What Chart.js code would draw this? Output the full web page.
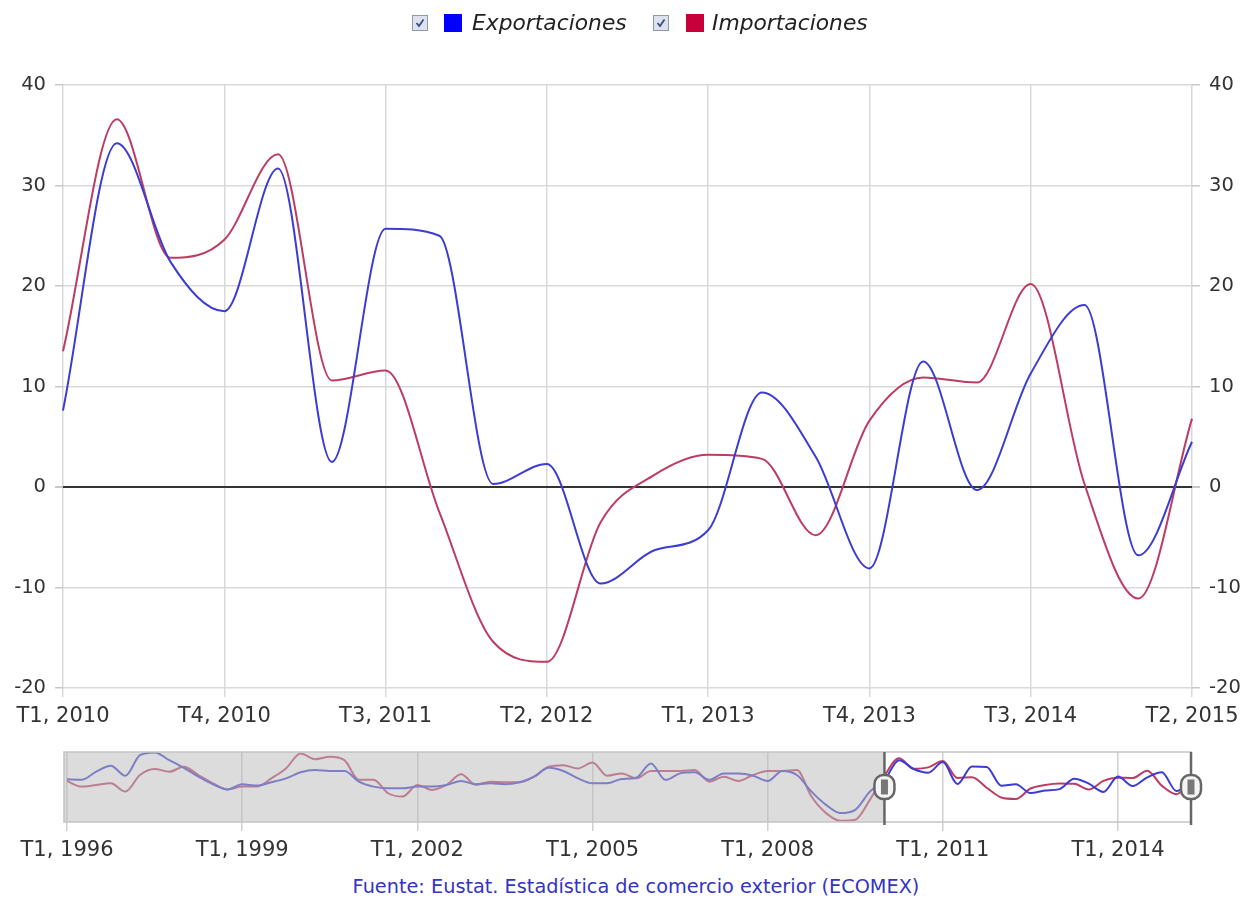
<!DOCTYPE html>
<html>
<head>
<meta charset="utf-8">
<title>Exportaciones e importaciones</title>
<script src="https://cdn.jsdelivr.net/npm/chart.js@4.4.1/dist/chart.umd.min.js"></script>
<style>
  html, body { margin: 0; padding: 0; background: #fff; }
  body { width: 1246px; height: 897px; position: relative; overflow: hidden; font-family: "DejaVu Sans", Verdana, sans-serif; }
  canvas { position: absolute; left: 0; }
  #main { top: 0; }
  #nav { top: 745px; }
  .lg { position: absolute; }
  .lg-text { top: 12px; font-size: 21.8px; line-height: 22px; font-style: italic; color: #222; white-space: nowrap; }
  .lg-box { top: 14px; width: 18px; height: 18px; }
  .lg-check { top: 15px; }
  #source { position: absolute; top: 876px; left: 13px; width: 1246px; text-align: center; font-size: 19.3px; line-height: 22px; color: #3434c4; }
</style>
</head>
<body>
<canvas id="main" width="1246" height="745"></canvas>
<canvas id="nav" width="1246" height="125"></canvas>

<svg class="lg lg-check" style="left:412px" width="16" height="16"><rect x="0.5" y="0.5" width="15" height="15" fill="#dde2ec" stroke="#8e99ad"/><path d="M4.5 8 L7 11 L11.5 4.5" stroke="#3a4c8a" stroke-width="1.8" fill="none"/></svg>
<span class="lg lg-box" style="left:444px;background:#0000ff"></span>
<span class="lg lg-text" style="left:472px">Exportaciones</span>
<svg class="lg lg-check" style="left:653px" width="16" height="16"><rect x="0.5" y="0.5" width="15" height="15" fill="#dde2ec" stroke="#8e99ad"/><path d="M4.5 8 L7 11 L11.5 4.5" stroke="#3a4c8a" stroke-width="1.8" fill="none"/></svg>
<span class="lg lg-box" style="left:686px;background:#c8003a"></span>
<span class="lg lg-text" style="left:712px">Importaciones</span>

<div id="source">Fuente: Eustat. Estadística de comercio exterior (ECOMEX)</div>

<script>
// periodos del grafico principal (T1 2010 - T2 2015)
const mainLabels = ['T1, 2010','T2, 2010','T3, 2010','T4, 2010',
                    'T1, 2011','T2, 2011','T3, 2011','T4, 2011',
                    'T1, 2012','T2, 2012','T3, 2012','T4, 2012',
                    'T1, 2013','T2, 2013','T3, 2013','T4, 2013',
                    'T1, 2014','T2, 2014','T3, 2014','T4, 2014',
                    'T1, 2015','T2, 2015'];

// tasa de variacion interanual (%)
const exportaciones = [7.6, 34.2, 22.4, 17.5, 31.7, 2.5, 25.7, 25.0, 0.3, 2.3, -9.6,
                       -6.3, -4.3, 9.4, 3.0, -8.1, 12.5, -0.3, 11.3, 18.1, -6.8, 4.5];
const importaciones = [13.5, 36.6, 22.8, 24.6, 33.1, 10.6, 11.6, -2.5, -15.4, -17.4, -3.5,
                       1.2, 3.2, 2.8, -4.8, 6.6, 10.9, 10.4, 20.2, 0.3, -11.1, 6.8];

// serie historica del navegador (T1 1996 - T4 2009)
const navYears = [1996, 1997, 1998, 1999, 2000, 2001, 2002, 2003, 2004, 2005, 2006, 2007, 2008, 2009];
const quarterNames = ['T1', 'T2', 'T3', 'T4'];
const histExport = [8.7, 8, 18.8, 26.7, 13.5, 40.8, 44.4, 34.2, 24, 12.2, 2.1, -4.7,
                    2.1, 0.4, 4.8, 10, 18, 21, 19.7, 19.7, 5.6, -1, -3.2, -3.2,
                    -1, -1, 1.2, 6.4, 2.1, 3.4, 2.1, 4.8, 12.2, 24, 19.7, 10,
                    3.4, 3.4, 9, 10.9, 29.8, 8, 16.6, 18, 8, 16.6, 16.6, 13.5,
                    6.4, 19.7, 14.4, -7.6, -25.2, -36.2, -31.8, -7.6];
const histImport = [6.4, -1, 1.2, 3.4, -7.6, 14.4, 22.3, 18.8, 25.4, 14.4, 3.4, -4.7,
                    -1, -1, 10, 23.1, 43, 35.5, 38.6, 34.2, 8, 8, -9.8, -14.2,
                    1.2, -5.4, 1.2, 15.3, 1.5, 5.6, 4.8, 4.8, 12.2, 25.4, 27.5, 23.1,
                    31, 13.5, 16.6, 10, 19.7, 19.7, 19.7, 21, 5.6, 12.2, 6.4, 14.4,
                    19.7, 19.7, 21, -14.2, -36.2, -46.4, -45, -18.6];

const yTicks = [-20, -10, 0, 10, 20, 30, 40];

const blueLine = '#3c3cd2';
const redLine = '#bc3c62';
const gridGray = '#d9d9d9';
const textColor = '#333';

Chart.defaults.font.family = '"DejaVu Sans", Verdana, sans-serif';
Chart.defaults.font.size = 19.5;
Chart.defaults.color = textColor;

let navLabels = [];
for (const year of navYears) {
    for (const q of quarterNames) navLabels.push(q + ', ' + year);
}
navLabels = navLabels.concat(mainLabels);
const navExport = histExport.concat(exportaciones);
const navImport = histImport.concat(importaciones);

function lineSet(label, data, color) {
    return {
        label: label,
        data: data,
        borderColor: color,
        backgroundColor: color,
        borderWidth: 2,
        pointRadius: 0,
        cubicInterpolationMode: 'monotone',
        fill: false
    };
}

function yAxis(position, showGrid) {
    return {
        type: 'linear',
        position: position,
        min: yTicks[0],
        max: yTicks[yTicks.length - 1],
        afterBuildTicks: axis => { axis.ticks = yTicks.map(v => ({value: v})); },
        afterFit: axis => { axis.width = position === 'left' ? 63 : 54; },
        border: { display: false },
        grid: {
            drawOnChartArea: showGrid,
            tickLength: 8,
            tickColor: '#c8c8c8',
            color: c => c.tick && c.tick.value === 0 ? '#333' : gridGray,
            lineWidth: c => c.tick && c.tick.value === 0 ? 2 : 1.5
        },
        ticks: { padding: 9, color: textColor }
    };
}

// grafico principal
new Chart(document.getElementById('main'), {
    type: 'line',
    data: {
        labels: mainLabels,
        datasets: [
            lineSet('Exportaciones', exportaciones, blueLine),
            lineSet('Importaciones', importaciones, redLine)
        ]
    },
    options: {
        responsive: false,
        animation: false,
        layout: { padding: { top: 85, left: 0, right: 0, bottom: 0 } },
        plugins: { legend: { display: false }, tooltip: { enabled: false } },
        scales: {
            x: {
                afterFit: axis => { axis.height = 57; },
                border: { display: false },
                grid: {
                    tickLength: 9,
                    color: c => c.index % 3 === 0 ? gridGray : 'rgba(0,0,0,0)',
                    lineWidth: 1.5
                },
                ticks: {
                    autoSkip: false,
                    maxRotation: 0,
                    padding: 7,
                    font: { size: 21 },
                    callback: function(v, i) { return i % 3 === 0 ? mainLabels[i] : ''; }
                }
            },
            y: yAxis('left', true),
            y2: yAxis('right', false)
        }
    }
});

// zona sombreada y tiradores del navegador
const maskEnd = navLabels.indexOf('T1, 2010');
const rangeEnd = navLabels.length - 1;
const navigatorMask = {
    id: 'navigatorMask',
    afterDatasetsDraw(chart) {
        const ctx = chart.ctx;
        const a = chart.chartArea;
        const x = chart.scales.x;
        const x0 = x.getPixelForValue(maskEnd);
        const x1 = x.getPixelForValue(rangeEnd);
        ctx.save();
        ctx.fillStyle = 'rgba(188,188,188,0.52)';
        ctx.fillRect(a.left - 3, a.top, x0 - a.left + 3, a.bottom - a.top);
        ctx.strokeStyle = '#c4c4c4';
        ctx.lineWidth = 1.5;
        ctx.strokeRect(a.left - 3, a.top, a.right - a.left + 3, a.bottom - a.top);
        const cy = (a.top + a.bottom) / 2;
        for (const hx of [x0, x1]) {
            ctx.strokeStyle = '#666';
            ctx.lineWidth = 2.5;
            ctx.beginPath();
            ctx.moveTo(hx, a.top);
            ctx.lineTo(hx, a.bottom + 3);
            ctx.stroke();
            ctx.fillStyle = '#f4f4f4';
            ctx.lineWidth = 2.5;
            ctx.beginPath();
            ctx.roundRect(hx - 10, cy - 12, 20, 24, 9);
            ctx.fill();
            ctx.stroke();
            ctx.fillStyle = '#777';
            ctx.fillRect(hx - 3.5, cy - 7.5, 7, 15);
        }
        ctx.restore();
    }
};

// navegador
new Chart(document.getElementById('nav'), {
    type: 'line',
    data: {
        labels: navLabels,
        datasets: [
            lineSet('Exportaciones', navExport, blueLine),
            lineSet('Importaciones', navImport, redLine)
        ]
    },
    options: {
        responsive: false,
        animation: false,
        layout: { padding: { top: 7, left: 67, right: 55, bottom: 0 } },
        plugins: { legend: { display: false }, tooltip: { enabled: false } },
        scales: {
            x: {
                afterFit: axis => { axis.height = 48; },
                border: { display: false },
                grid: {
                    tickLength: 9,
                    color: c => c.index % 12 === 0 ? '#d0d0d0' : 'rgba(0,0,0,0)',
                    lineWidth: 1.5
                },
                ticks: {
                    autoSkip: false,
                    maxRotation: 0,
                    padding: 7,
                    font: { size: 21 },
                    callback: function(v, i) { return i % 12 === 0 ? navLabels[i] : ''; }
                }
            },
            y: { display: false, min: -48, max: 45 }
        }
    },
    plugins: [navigatorMask]
});
</script>
</body>
</html>
